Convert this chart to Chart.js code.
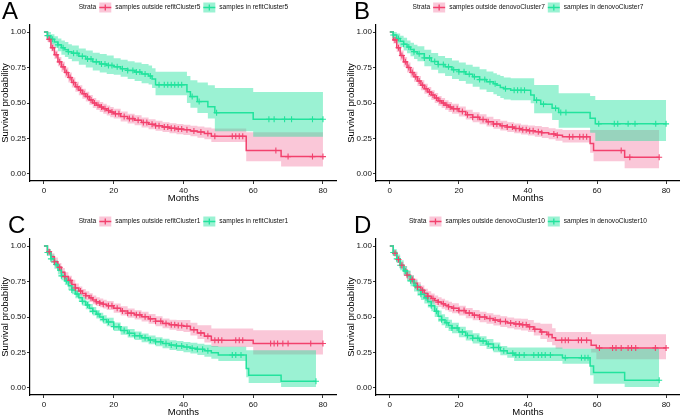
<!DOCTYPE html>
<html>
<head>
<meta charset="utf-8">
<script src="https://cdn.jsdelivr.net/npm/chart.js@4.4.1/dist/chart.umd.min.js"></script>
<style>
  html, body { margin: 0; padding: 0; background: #fff; overflow: hidden; }
  body { width: 685px; height: 415px; position: relative; }
  .panel { position: absolute; height: 207px; }
</style>
</head>
<body>
<div class="panel" style="left:0;top:0;width:342px"><canvas id="chartA"></canvas></div>
<div class="panel" style="left:346px;top:0;width:339px"><canvas id="chartB"></canvas></div>
<div class="panel" style="left:0;top:214px;width:342px"><canvas id="chartC"></canvas></div>
<div class="panel" style="left:346px;top:214px;width:339px"><canvas id="chartD"></canvas></div>
<script>
// axis ticks
const monthTicks = [0, 20, 40, 60, 80];
const probTicks = [0, 0.25, 0.5, 0.75, 1];

// ---- panel A ----
const labelsA = ['samples outside refitCluster5', 'samples in refitCluster5'];
const timeOutA = [0,1,2,3,4,5,6,7,8,9,10,11,12,13,14,15,16,17,18,19,20,22,24,26,28,30,32,34,36,38,40,42,44,46,48,58,68];
const survOutA = [1,.95,.89,.84,.79,.755,.715,.68,.645,.615,.59,.565,.545,.522,.50,.485,.472,.46,.447,.436,.425,.405,.39,.378,.362,.35,.34,.33,.322,.316,.311,.302,.295,.285,.265,.165,.122];
const lowerOutA = [1,.93,.865,.81,.76,.72,.68,.645,.61,.58,.555,.53,.51,.487,.465,.45,.437,.425,.412,.40,.39,.37,.355,.343,.327,.315,.305,.295,.287,.28,.275,.265,.255,.245,.225,.09,.052];
const upperOutA = [1,.97,.92,.87,.825,.79,.75,.715,.68,.65,.625,.60,.58,.557,.535,.52,.507,.495,.482,.472,.46,.44,.425,.413,.397,.385,.375,.365,.357,.352,.347,.34,.335,.328,.32,.293,.293];
const censorOutA = [1.5,2.5,3.5,4.5,5.5,6.5,7.5,8.5,9.5,10.5,11.5,12.5,13.5,14.5,15.5,16.5,17.5,18.5,19.5,20.5,21.5,23,24.5,25.5,27,28.5,29.5,31,32,33,34.5,35.5,36.5,37.5,38.5,39.5,41,43,45,47,49,54,55,56,57,66.5,70,77,80];
const timeInA = [0,1,2,3,4,5,6,7,8,10,12,14,16,18,20,22,24,26,28,30,31,32,41,42,44,47,49,60];
const survInA = [1,.975,.95,.93,.91,.89,.875,.862,.85,.83,.81,.79,.775,.765,.755,.742,.73,.718,.705,.69,.67,.628,.58,.545,.51,.473,.432,.385];
const lowerInA = [1,.95,.915,.89,.865,.84,.825,.81,.795,.77,.75,.73,.715,.705,.70,.685,.67,.655,.64,.63,.605,.555,.50,.466,.43,.39,.30,.262];
const upperInA = [1,1,.985,.97,.955,.94,.93,.915,.905,.885,.87,.855,.845,.835,.815,.805,.795,.785,.775,.765,.745,.72,.69,.66,.645,.625,.605,.577];
const censorInA = [1,2.5,4,5.5,7,8.5,9.5,11,12.5,13.5,15,16.5,17.5,18.5,19.5,21,22.5,24,25.5,26.5,27.5,29,30.5,33,34.5,35.5,36.5,37.5,38.5,39.5,42.5,44.5,49.5,64.5,66,69,71,77,80];

// ---- panel B ----
const labelsB = ['samples outside denovoCluster7', 'samples in denovoCluster7'];
const timeOutB = [0,1,2,3,4,5,6,7,8,9,10,11,12,13,14,15,16,17,18,20,22,24,26,28,30,32,34,36,38,40,42,44,46,48,50,58,59,68];
const survOutB = [1,.945,.89,.835,.79,.75,.715,.685,.655,.625,.6,.578,.556,.535,.515,.5,.485,.472,.46,.44,.418,.4,.384,.368,.352,.34,.33,.32,.312,.305,.298,.29,.282,.273,.262,.215,.165,.117];
const lowerOutB = [1,.92,.86,.80,.755,.715,.68,.65,.62,.59,.565,.543,.522,.50,.48,.465,.45,.437,.425,.405,.383,.365,.35,.334,.318,.306,.296,.286,.278,.27,.262,.253,.244,.234,.222,.15,.09,.04];
const upperOutB = [1,.97,.92,.87,.825,.785,.75,.72,.69,.66,.635,.613,.59,.57,.55,.535,.52,.507,.495,.475,.453,.435,.42,.403,.387,.375,.365,.355,.347,.342,.337,.33,.322,.315,.31,.31,.31,.31];
const censorOutB = [1.5,2.5,3.5,4.5,5.5,6.5,7.5,8.5,9.5,10.5,11.5,12.5,13.5,14.5,15.5,16.5,17.5,18.5,19.5,21,22.5,24,25.5,27,28.5,30,31,32.5,34,35.5,36.5,37.5,38.5,39.5,40.5,41.5,43,44,47.5,48.5,52,53,55,56,57,67,69.5,78];
const timeInB = [0,1,2,3,4,5,6,7,8,10,12,14,16,18,20,22,24,26,28,30,31,32,33,35,40.8,41.8,43.7,47,48.9,58,59.5];
const survInB = [1,.98,.955,.935,.915,.895,.878,.862,.848,.818,.793,.772,.755,.735,.72,.703,.685,.665,.65,.636,.625,.61,.6,.59,.556,.52,.492,.463,.433,.393,.353];
const lowerInB = [1,.955,.92,.895,.87,.85,.83,.81,.795,.76,.735,.71,.69,.67,.655,.635,.615,.595,.578,.562,.55,.535,.525,.52,.498,.427,.427,.38,.326,.29,.232];
const upperInB = [1,1,.99,.975,.96,.94,.925,.91,.9,.875,.852,.832,.817,.8,.785,.77,.755,.738,.722,.71,.7,.69,.68,.674,.674,.627,.627,.627,.568,.55,.521];
const censorInB = [1,2.5,4,5.5,7,8.5,10,11.5,13,14,15.5,17,18.5,20,21.5,23,24.5,26,27.5,29,30.5,33.5,36,37,38,39,42.5,44.5,48,49.5,51,60.5,65,66,69,71,77,80];

// ---- panel C ----
const labelsC = ['samples outside refitCluster1', 'samples in refitCluster1'];
const timeOutC = [0,1,2,3,4,5,6,7,8,9,10,11,12,13,14,15,16,17,18,20,22,24,26,28,30,32,34,36,38,40,42,44,46,48,60];
const survOutC = [1,.96,.925,.89,.85,.815,.785,.758,.73,.705,.683,.665,.65,.635,.62,.608,.598,.59,.58,.562,.542,.527,.515,.502,.487,.47,.455,.445,.44,.435,.41,.388,.365,.336,.313];
const lowerOutC = [1,.94,.90,.86,.82,.785,.755,.727,.70,.675,.653,.635,.62,.605,.59,.578,.568,.56,.55,.53,.51,.495,.482,.468,.452,.435,.42,.41,.402,.395,.37,.345,.32,.289,.235];
const upperOutC = [1,.98,.95,.92,.88,.845,.815,.79,.762,.737,.715,.697,.682,.667,.652,.64,.63,.622,.612,.595,.576,.56,.548,.537,.522,.505,.49,.48,.478,.478,.46,.442,.442,.419,.407];
const censorOutC = [1.5,3,4.5,6,7.5,9,10.5,12,13.5,15,16,17,18.5,19.5,21,22.5,24,25,26.5,27.5,29,30.5,32,33.5,35,36.5,37.5,38.5,39.5,41,43,45,47,49,50,51,55,56,57,65,66,67,68.5,70,76.5,80];
const timeInC = [0,1,2,3,4,5,6,7,8,9,10,11,12,13,14,15,16,17,18,20,22,24,26,28,30,32,34,36,38,40,42,44,46,48,50,58,58.7,68];
const survInC = [1,.955,.91,.87,.83,.79,.755,.72,.69,.662,.635,.61,.585,.562,.54,.52,.5,.482,.465,.432,.405,.385,.368,.353,.338,.325,.313,.302,.295,.288,.28,.272,.262,.248,.232,.136,.089,.047];
const lowerInC = [1,.93,.88,.84,.80,.76,.725,.69,.66,.632,.605,.58,.555,.532,.51,.49,.47,.452,.435,.402,.375,.355,.338,.322,.307,.293,.28,.268,.26,.252,.243,.232,.22,.205,.19,.075,.035,.007];
const upperInC = [1,.98,.94,.90,.86,.82,.785,.75,.72,.692,.665,.64,.615,.592,.57,.55,.53,.512,.495,.462,.435,.415,.398,.384,.37,.357,.346,.336,.33,.324,.318,.312,.305,.295,.29,.266,.266,.266];
const censorInC = [1,2,3.5,5,6.5,8,9.5,11,12.5,14,15.5,17,18.5,20,21.5,23,24.5,26,27.5,29,30.5,32,33.5,35,36.5,38,39.5,41,42.5,44,45.5,47,54,55,56.5,78];

// ---- panel D ----
const labelsD = ['samples outside denovoCluster10', 'samples in denovoCluster10'];
const timeOutD = [0,1,2,3,4,5,6,7,8,9,10,11,12,13,14,15,16,17,18,20,22,24,26,28,30,32,34,36,38,40,41.7,43.6,45.5,47,48,58.3,59.8];
const survOutD = [1,.95,.905,.865,.83,.795,.765,.738,.712,.688,.666,.647,.63,.617,.605,.593,.582,.572,.562,.545,.528,.513,.5,.489,.478,.468,.458,.451,.446,.432,.414,.395,.376,.353,.336,.30,.282];
const lowerOutD = [1,.93,.88,.84,.80,.765,.733,.705,.678,.654,.632,.613,.596,.582,.57,.558,.547,.537,.527,.51,.492,.477,.463,.452,.44,.43,.42,.412,.405,.394,.37,.345,.324,.30,.277,.25,.202];
const upperOutD = [1,.97,.93,.89,.86,.825,.797,.77,.745,.722,.70,.682,.665,.652,.64,.628,.617,.607,.597,.58,.564,.549,.537,.526,.516,.506,.496,.49,.488,.478,.46,.453,.453,.42,.394,.378,.378];
const censorOutD = [1.5,2.5,3.5,5,6.5,8,9.5,11,12.5,14,15.5,17,18.5,20,21.5,23,24.5,26,27.5,29,30.5,32,33.5,35,36.5,37.5,38.5,39.5,40.5,42,44,46,49.8,50.8,51.7,54.6,55.5,57,60.7,64.5,65.5,67,69,70,71.2,76.9,80];
const timeInD = [0,1,2,3,4,5,6,7,8,9,10,11,12,13,14,15,16,17,18,20,22,24,26,28,30,32,34,36,50,58,59,68];
const survInD = [1,.955,.91,.865,.825,.79,.755,.72,.69,.66,.635,.607,.58,.54,.505,.48,.46,.44,.422,.395,.37,.35,.33,.31,.285,.262,.245,.232,.212,.155,.108,.054];
const lowerInD = [1,.93,.88,.83,.79,.752,.717,.68,.65,.62,.595,.567,.54,.5,.466,.442,.422,.402,.385,.358,.334,.314,.295,.275,.252,.23,.213,.19,.171,.09,.03,.007];
const upperInD = [1,.98,.94,.90,.86,.828,.793,.76,.73,.70,.675,.647,.62,.58,.545,.52,.50,.48,.46,.432,.406,.386,.365,.345,.32,.296,.285,.285,.277,.277,.277,.277];
const censorInD = [1,2,3,4.5,6,7.5,9,10.5,12,13.5,15,16.5,18,19.5,21,22.5,24,25.5,27,28.5,30,31.5,33,35.6,36.5,37.5,38.9,41.7,43,44,45,46.5,50.8,55.5,56.5,57.4,78];

const FONT = '"Liberation Sans", Arial, Helvetica, sans-serif';
const redLine = '#F2416D';
const greenLine = '#22E39D';
const redBand = 'rgba(238, 70, 125, 0.3)';
const greenBand = 'rgba(34, 227, 157, 0.45)';

Chart.defaults.font.family = FONT;

// value of the KM step curve at time t
function survAt(time, surv, t) {
    let s = surv[0];
    for (let i = 0; i < time.length; i++) if (time[i] <= t) s = surv[i];
    return s;
}

// step points, carried flat to the last follow-up time
function stepPoints(time, vals, end) {
    const pts = time.map((t, i) => ({x: t, y: vals[i]}));
    pts.push({x: end, y: vals[vals.length - 1]});
    return pts;
}

const strataLegend = {
    id: 'strataLegend',
    afterDraw(chart, args, opts) {
        const {ctx, chartArea} = chart;
        const items = chart.data.datasets.filter(d => d.legendFill);
        ctx.save();
        ctx.font = '6.6px ' + FONT;
        ctx.textBaseline = 'middle';
        const keyW = 12, y = 7.5;
        let total = ctx.measureText('Strata').width + 3;
        items.forEach((it, i) => {
            total += keyW + 4 + ctx.measureText(it.label).width + (i < items.length - 1 ? 3 : 0);
        });
        let x = (chartArea.left + chartArea.right) / 2 - total / 2;
        ctx.fillStyle = '#111';
        ctx.fillText('Strata', x, y);
        x += ctx.measureText('Strata').width + 3;
        items.forEach(it => {
            ctx.fillStyle = it.legendFill;
            ctx.fillRect(x, y - 5, keyW, 10);
            ctx.strokeStyle = it.borderColor;
            ctx.lineWidth = 1.3;
            ctx.beginPath();
            ctx.moveTo(x, y); ctx.lineTo(x + keyW, y);
            ctx.moveTo(x + keyW / 2, y - 3); ctx.lineTo(x + keyW / 2, y + 3);
            ctx.stroke();
            x += keyW + 4;
            ctx.fillStyle = '#111';
            ctx.fillText(it.label, x, y);
            x += ctx.measureText(it.label).width + 3;
        });
        // panel letter
        ctx.font = '24px ' + FONT;
        ctx.textBaseline = 'alphabetic';
        ctx.fillStyle = '#000';
        ctx.fillText(opts.letter, opts.letterX, 19);
        ctx.restore();
    }
};

function makeChart(id, p) {
    const endOut = Math.max(...p.outCensor);
    const endIn = Math.max(...p.inCensor);
    const band = (data, order, fill, color) => ({
        data, stepped: true, borderColor: 'transparent', borderWidth: 0,
        pointRadius: 0, fill, backgroundColor: color, order
    });
    const datasets = [
        band(stepPoints(p.outTime, p.outUpper, endOut), 5, false, redBand),
        band(stepPoints(p.outTime, p.outLower, endOut), 5, '-1', redBand),
        band(stepPoints(p.inTime, p.inUpper, endIn), 4, false, greenBand),
        band(stepPoints(p.inTime, p.inLower, endIn), 4, '-1', greenBand),
        {
            label: p.labels[0], data: stepPoints(p.outTime, p.outSurv, endOut), stepped: true,
            borderColor: redLine, borderWidth: 1.5, pointRadius: 0, fill: false, order: 2, legendFill: redBand
        },
        {
            label: p.labels[1], data: stepPoints(p.inTime, p.inSurv, endIn), stepped: true,
            borderColor: greenLine, borderWidth: 1.5, pointRadius: 0, fill: false, order: 1, legendFill: greenBand
        },
        {
            data: p.outCensor.map(t => ({x: t, y: survAt(p.outTime, p.outSurv, t)})), showLine: false,
            pointStyle: 'cross', pointRadius: 3, borderColor: redLine, borderWidth: 1.1, order: 0
        },
        {
            data: p.inCensor.map(t => ({x: t, y: survAt(p.inTime, p.inSurv, t)})), showLine: false,
            pointStyle: 'cross', pointRadius: 3, borderColor: greenLine, borderWidth: 1.1, order: 0
        }
    ];
    return new Chart(document.getElementById(id), {
        type: 'line',
        data: {datasets},
        options: {
            responsive: true,
            maintainAspectRatio: false,
            animation: false,
            events: [],
            layout: {padding: {top: 25, right: p.padRight, left: 0, bottom: 0}},
            plugins: {
                legend: {display: false},
                tooltip: {enabled: false},
                strataLegend: {letter: p.letter, letterX: p.letterX}
            },
            scales: {
                x: {
                    type: 'linear', min: -4, max: 84,
                    afterBuildTicks: s => { s.ticks = monthTicks.map(v => ({value: v})); },
                    afterFit: s => { s.height = 26; },
                    grid: {drawOnChartArea: false, drawTicks: true, tickLength: 3, color: '#333'},
                    border: {display: true, color: '#000', width: 1.2},
                    ticks: {padding: 2, color: '#111', font: {size: 8}, maxRotation: 0, autoSkip: false},
                    title: {display: true, text: 'Months', color: '#000', font: {size: 9.5}, padding: {top: 0, bottom: 3}}
                },
                y: {
                    type: 'linear', min: -0.05, max: 1.05,
                    afterBuildTicks: s => { s.ticks = probTicks.map(v => ({value: v})); },
                    afterFit: s => { s.width = 30; },
                    grid: {drawOnChartArea: false, drawTicks: true, tickLength: 3, color: '#333'},
                    border: {display: true, color: '#000', width: 1.2},
                    ticks: {padding: 1, color: '#111', font: {size: 8}, autoSkip: false, callback: v => v.toFixed(2)},
                    title: {display: true, text: 'Survival probability', color: '#000', font: {size: 9.5}, padding: {top: 0, bottom: 0}}
                }
            }
        },
        plugins: [strataLegend]
    });
}

makeChart('chartA', {
    letter: 'A', letterX: 2, padRight: 4, labels: labelsA,
    outTime: timeOutA, outSurv: survOutA, outLower: lowerOutA, outUpper: upperOutA, outCensor: censorOutA,
    inTime: timeInA, inSurv: survInA, inLower: lowerInA, inUpper: upperInA, inCensor: censorInA
});
makeChart('chartB', {
    letter: 'B', letterX: 8, padRight: 0, labels: labelsB,
    outTime: timeOutB, outSurv: survOutB, outLower: lowerOutB, outUpper: upperOutB, outCensor: censorOutB,
    inTime: timeInB, inSurv: survInB, inLower: lowerInB, inUpper: upperInB, inCensor: censorInB
});
makeChart('chartC', {
    letter: 'C', letterX: 8, padRight: 4, labels: labelsC,
    outTime: timeOutC, outSurv: survOutC, outLower: lowerOutC, outUpper: upperOutC, outCensor: censorOutC,
    inTime: timeInC, inSurv: survInC, inLower: lowerInC, inUpper: upperInC, inCensor: censorInC
});
makeChart('chartD', {
    letter: 'D', letterX: 8, padRight: 0, labels: labelsD,
    outTime: timeOutD, outSurv: survOutD, outLower: lowerOutD, outUpper: upperOutD, outCensor: censorOutD,
    inTime: timeInD, inSurv: survInD, inLower: lowerInD, inUpper: upperInD, inCensor: censorInD
});
</script>
</body>
</html>
